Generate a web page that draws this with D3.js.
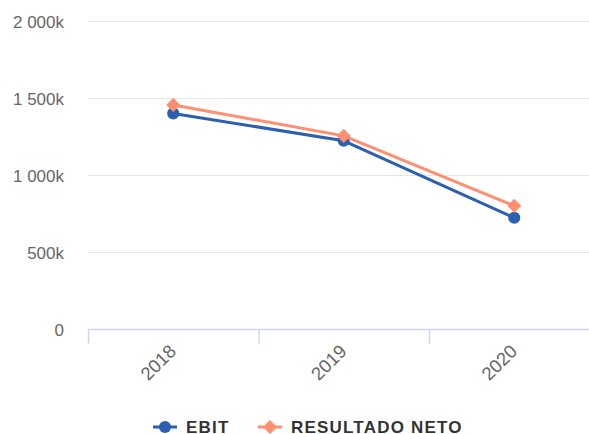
<!DOCTYPE html>
<html>
<head>
<meta charset="utf-8">
<script src="https://cdn.jsdelivr.net/npm/d3@7"></script>
<style>
  html, body { margin: 0; padding: 0; background: #ffffff; }
  svg { display: block; font-family: "Liberation Sans", Arial, Helvetica, sans-serif; }
</style>
</head>
<body>
<svg id="chart" width="589" height="434"></svg>
<script>
// Annual figures (thousands)
const years = ["2018", "2019", "2020"];
const ebit = [1400, 1222, 722];
const resultadoNeto = [1455, 1254, 800];
const yTicks = [0, 500, 1000, 1500, 2000];
const seriesNames = ["EBIT", "RESULTADO NETO"];
const seriesColors = ["#2b5fb4", "#ff8f70"];

const svg = d3.select("#chart");
const plotLeft = 88, plotRight = 599.5, plotTop = 21, plotBottom = 329;

const x = d3.scaleBand().domain(years).range([plotLeft, plotRight]);
const y = d3.scaleLinear().domain([0, 2000]).range([plotBottom, plotTop]);

const fmt = v => v === 0 ? "0" : d3.format(",")(v).replace(/,/g, " ") + "k";

// Marker shapes: circle for EBIT, square turned 45° (diamond) for net result
const markerPath = s => s === 0 ? d3.symbol(d3.symbolCircle, 115)() : d3.symbol(d3.symbolSquare, 100)();
const markerRot = s => s === 0 ? "" : " rotate(45)";

// Horizontal grid lines
svg.append("g")
  .selectAll("line")
  .data(yTicks.filter(t => t > 0))
  .join("line")
  .attr("x1", plotLeft).attr("x2", 589)
  .attr("y1", d => y(d) + 0.5).attr("y2", d => y(d) + 0.5)
  .attr("stroke", "#e6e6e6").attr("stroke-width", 1);

// Y axis labels
const yAxis = svg.append("g")
  .attr("transform", `translate(${plotLeft - 24},0)`)
  .call(d3.axisLeft(y).tickValues(yTicks).tickFormat(fmt).tickSize(0).tickPadding(0));
yAxis.select(".domain").remove();
yAxis.selectAll("text")
  .attr("fill", "#666666").attr("font-size", "17px")
  .attr("font-family", "'Liberation Sans', Arial, sans-serif")
  .attr("dy", "0.4em");

// X axis
const xAxis = svg.append("g").attr("transform", `translate(0,${plotBottom + 0.5})`);
xAxis.append("line")
  .attr("x1", plotLeft).attr("x2", 589)
  .attr("stroke", "#ccd6eb").attr("stroke-width", 1.5);
const tickPos = years.map(d => x(d)).concat([x(years[years.length - 1]) + x.bandwidth()]);
xAxis.selectAll("line.tick")
  .data(tickPos)
  .join("line")
  .attr("class", "tick")
  .attr("x1", d => d + 0.5).attr("x2", d => d + 0.5)
  .attr("y1", 0).attr("y2", 14)
  .attr("stroke", "#ccd6eb").attr("stroke-width", 1.5);
xAxis.selectAll("text")
  .data(years)
  .join("text")
  .attr("transform", d => `translate(${x(d) + x.bandwidth() / 2 + 4},${23}) rotate(-45)`)
  .attr("text-anchor", "end")
  .attr("fill", "#666666").attr("font-size", "18.5px")
  .text(d => d);

// Series lines and markers
const allSeries = [ebit, resultadoNeto];
const line = d3.line()
  .x((d, i) => x(years[i]) + x.bandwidth() / 2)
  .y(d => y(d));

allSeries.forEach((vals, s) => {
  const g = svg.append("g");
  g.append("path")
    .datum(vals)
    .attr("d", line)
    .attr("fill", "none")
    .attr("stroke", seriesColors[s])
    .attr("stroke-width", 3)
    .attr("stroke-linejoin", "round");
  g.selectAll("path.pt")
    .data(vals)
    .join("path")
    .attr("class", "pt")
    .attr("d", markerPath(s))
    .attr("transform", (d, i) => `translate(${x(years[i]) + x.bandwidth() / 2},${y(d)})` + markerRot(s))
    .attr("fill", seriesColors[s]);
});

// Legend
const legendItems = [
  { name: seriesNames[0], x: 153 },
  { name: seriesNames[1], x: 258 }
];
const ly = 427;
legendItems.forEach((it, s) => {
  const g = svg.append("g");
  g.append("line")
    .attr("x1", it.x).attr("x2", it.x + 24)
    .attr("y1", ly).attr("y2", ly)
    .attr("stroke", seriesColors[s]).attr("stroke-width", 3);
  g.append("path")
    .attr("d", markerPath(s))
    .attr("transform", `translate(${it.x + 12},${ly})` + markerRot(s))
    .attr("fill", seriesColors[s]);
  g.append("text")
    .attr("x", it.x + 33).attr("y", ly)
    .attr("dy", "0.35em")
    .attr("fill", "#333333")
    .attr("font-weight", "bold")
    .attr("font-size", "17px")
    .attr("letter-spacing", "1.2px")
    .text(it.name);
});
</script>
</body>
</html>
